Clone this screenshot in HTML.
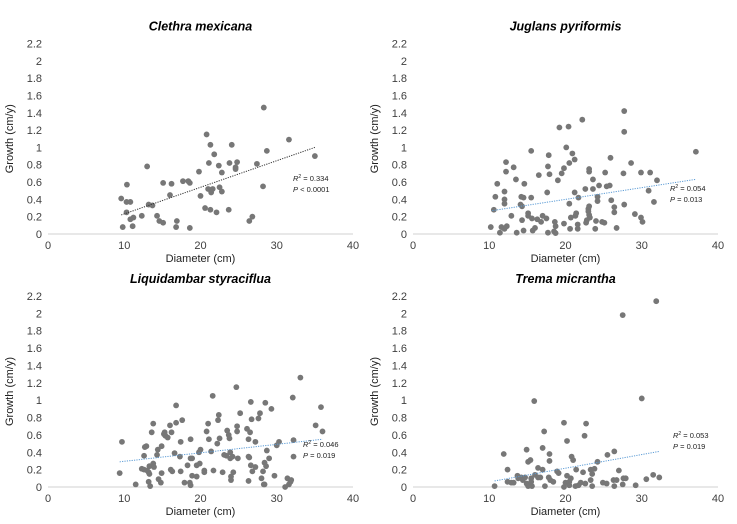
<!DOCTYPE html>
<html><head><meta charset="utf-8"><style>
body{margin:0;background:#fff;}
svg{display:block;font-family:"Liberation Sans",sans-serif;}
</style></head><body>
<svg id="chart" width="737" height="524" viewBox="0 0 737 524"></svg>
<script>
const xTicks=[0,10,20,30,40];
const yTicks=[0,0.2,0.4,0.6,0.8,1,1.2,1.4,1.6,1.8,2,2.2];
const yTickLabels=["0","0.2","0.4","0.6","0.8","1","1.2","1.4","1.6","1.8","2","2.2"];
const titles=["Clethra mexicana","Juglans pyriformis","Liquidambar styraciflua","Trema micrantha"];
const r2Labels=["0.334","0.054","0.046","0.053"];
const pLabels=["< 0.0001","= 0.013","= 0.019","= 0.019"];
const clethraX=[9.6,9.8,10.35,10.3,10.3,10.8,10.8,11.2,11.1,12.3,13,13.2,13.7,14.3,14.6,15.1,15.1,16,16.2,16.8,16.9,17.7,18.4,18.6,18.6,19.8,20,20.6,20.8,21,21.1,21.3,21.3,21.4,21.6,21.8,22.1,22.4,22.5,22.8,22.8,23.7,23.8,24.1,24.6,24.6,24.8,26.4,26.8,27.4,28.2,28.3,28.7,31.6,35];
const clethraY=[0.41,0.08,0.57,0.37,0.25,0.37,0.17,0.19,0.09,0.21,0.78,0.34,0.33,0.21,0.15,0.13,0.59,0.45,0.58,0.08,0.15,0.61,0.61,0.59,0.07,0.72,0.44,0.30,1.15,0.52,0.82,1.03,0.28,0.48,0.52,0.92,0.25,0.79,0.54,0.71,0.49,0.28,0.82,1.03,0.77,0.75,0.83,0.15,0.2,0.81,0.55,1.46,0.96,1.09,0.90];
const juglansX=[10.2,10.6,10.8,11.05,11.4,11.6,12,12,12,12,12.2,12.2,12.3,12.9,13.2,13.5,13.6,14.1,14.2,14.3,14.3,14.5,14.5,14.6,15.1,15.1,15.5,15.5,15.6,15.7,16,16.3,16.5,16.8,17,17.5,17.6,17.7,17.8,17.7,17.9,18.5,18.6,18.7,18.7,19,19.2,19.5,19.8,19.8,20.1,20.4,20.5,20.5,20.6,20.7,20.9,21.2,21.2,21.3,21.4,21.6,21.6,21.7,22.2,22.6,22.7,22.8,23,23,23.1,23.1,23.1,23.1,23.2,23.6,23.6,23.9,24,24.2,24.2,24.4,24.8,25.1,25.2,25.4,25.8,25.9,26,26.4,26.4,26.7,27.6,27.7,27.7,27.7,28.6,29.1,29.9,29.9,30.1,30.9,31.1,31.6,32,37.1];
const juglansY=[0.08,0.28,0.43,0.58,0.015,0.08,0.06,0.49,0.40,0.35,0.83,0.72,0.09,0.21,0.77,0.63,0.015,0.34,0.43,0.16,0.32,0.42,0.04,0.58,0.24,0.21,0.96,0.42,0.18,0.04,0.07,0.17,0.68,0.14,0.21,0.18,0.48,0.78,0.91,0.015,0.69,0.03,0.14,0.09,0.01,0.62,1.23,0.70,0.76,0.12,1.0,1.24,0.82,0.35,0.06,0.19,0.93,0.86,0.48,0.21,0.24,0.11,0.06,0.42,1.32,0.52,0.13,0.16,0.26,0.29,0.72,0.75,0.32,0.22,0.19,0.52,0.63,0.06,0.15,0.43,0.38,0.56,0.14,0.13,0.71,0.55,0.56,0.88,0.39,0.31,0.25,0.07,0.70,1.42,1.18,0.34,0.82,0.23,0.71,0.19,0.14,0.50,0.71,0.37,0.62,0.95];
const liquidX=[9.4,9.7,11.5,12.3,12.6,12.6,12.7,12.9,13,13.2,13.2,13.3,13.3,13.4,13.6,13.8,13.8,13.9,14.3,14.4,14.5,14.8,14.9,14.9,15.2,15.3,15.4,15.7,16,16.1,16.2,16.3,16.6,16.8,16.8,17.3,17.4,17.4,17.6,17.9,18.3,18.6,18.7,18.7,18.7,18.9,18.9,19.5,19.5,19.8,19.9,20,20.5,20.5,20.8,21,21.1,21.4,21.6,21.7,22.2,22.3,22.4,22.5,22.9,23.1,23.4,23.5,24.7,23.7,23.8,23.9,23.9,24,24,24.2,24.3,24.8,24.8,24.9,25.2,26.1,26.3,26.3,26.3,26.4,26.5,26.6,26.6,26.7,26.8,27.2,27.2,27.6,27.8,28,28.2,28.3,28.4,28.4,28.5,28.6,28.7,29,29.3,29.7,30,30.3,31.1,31.4,31.6,31.8,31.9,32.1,32.2,32.2,33.1,35.1,35.8,36];
const liquidY=[0.16,0.52,0.03,0.21,0.2,0.36,0.46,0.47,0.19,0.17,0.06,0.15,0.24,0.01,0.63,0.73,0.27,0.23,0.37,0.43,0.09,0.05,0.47,0.16,0.61,0.63,0.59,0.57,0.71,0.20,0.63,0.18,0.39,0.74,0.94,0.35,0.18,0.52,0.77,0.05,0.25,0.05,0.02,0.55,0.33,0.33,0.13,0.12,0.25,0.40,0.27,0.43,0.19,0.17,0.64,0.73,0.55,0.41,1.05,0.19,0.50,0.77,0.83,0.56,0.17,0.37,0.36,0.65,1.15,0.60,0.56,0.40,0.33,0.12,0.08,0.35,0.17,0.70,0.64,0.33,0.85,0.67,0.55,0.35,0.07,0.34,0.63,0.25,0.98,0.78,0.18,0.23,0.52,0.79,0.85,0.10,0.18,0.03,0.03,0.28,0.97,0.24,0.42,0.33,0.90,0.13,0.48,0.52,0,0.10,0.03,0.06,0.08,1.03,0.35,0.54,1.26,0.71,0.92,0.64];
const tremaX=[10.7,11.9,12.4,12.4,12.9,13.2,13.7,13.8,14.2,14.4,14.7,14.9,14.9,15.1,15.1,15.4,15.5,15.5,15.6,15.9,16,16.4,16.4,16.7,17,17,17.2,17.3,17.8,17.9,17.9,18,18.4,18.9,19.1,19.8,19.8,20,20.2,20.2,20.5,20.5,20.7,20.8,21,21.3,21.4,21.7,22,22.3,22.5,22.6,22.7,23.3,23.3,23.5,23.5,23.8,24.2,24.9,25.4,25.5,26.3,26.4,26.4,26.7,27,27.5,27.5,27.6,27.9,29.2,30,30.6,31.5,31.9,32.3];
const tremaY=[0.01,0.38,0.2,0.06,0.05,0.05,0.13,0.10,0.11,0.08,0.11,0.43,0.04,0.01,0.29,0.31,0.10,0.06,0.01,0.99,0.14,0.22,0.11,0.11,0.45,0.20,0.64,0.01,0.11,0.38,0.30,0.08,0.06,0.18,0.16,0.74,0,0.05,0.13,0.53,0.06,0.02,0.10,0.35,0.31,0.01,0.20,0.02,0.05,0.17,0.59,0.04,0.73,0.08,0.20,0.15,0.01,0.21,0.29,0.05,0.04,0.37,0.08,0.41,0.01,0.08,0.19,0.03,1.98,0.10,0.10,0.02,1.02,0.09,0.14,2.14,0.11];
const trendX0=[9.6,10.4,9.4,10.7];
const trendY0=[0.22,0.27,0.29,0.07];
const trendX1=[35,37,36,32.3];
const trendY1=[1.0,0.63,0.55,0.41];

const NS="http://www.w3.org/2000/svg";
const svg=document.getElementById('chart');
function mk(tag,attrs,parent){const e=document.createElementNS(NS,tag);for(const k in attrs)e.setAttribute(k,attrs[k]);(parent||svg).appendChild(e);return e;}
const panels=[{x0:48,x1:353,y0:234,y1:43.5,ax:293,ay:181,c:"#333",X:clethraX,Y:clethraY},
{x0:413,x1:718,y0:234,y1:43.5,ax:670,ay:191,c:"#5b9bd5",X:juglansX,Y:juglansY},
{x0:48,x1:353,y0:487,y1:296,ax:303,ay:447,c:"#5b9bd5",X:liquidX,Y:liquidY},
{x0:413,x1:718,y0:487,y1:296,ax:673,ay:438,c:"#5b9bd5",X:tremaX,Y:tremaY}];
const slug=["clethra","juglans","liquidambar","trema"];
panels.forEach((p,i)=>{
  const g=mk('g',{});
  
  
  const sx=v=>p.x0+(p.x1-p.x0)*v/40, sy=v=>p.y0-(p.y0-p.y1)*v/2.2;
  const t=mk('text',{x:(p.x0+p.x1)/2,y:p.y1-13,'text-anchor':'middle','font-size':12.5,'font-weight':'bold','font-style':'italic',fill:'#000'},g);
  t.textContent=titles[i];
  
  
  const base=mk('line',{x1:p.x0,x2:p.x1,y1:p.y0,y2:p.y0,stroke:'#d0d0d0','stroke-width':1},g);
  
  
  yTicks.forEach((v,j)=>{const e=mk('text',{x:p.x0-6,y:sy(v)+4,'text-anchor':'end','font-size':11,fill:'#404040'},g);e.textContent=yTickLabels[j];
    
    });
  xTicks.forEach(v=>{const e=mk('text',{x:sx(v),y:p.y0+15,'text-anchor':'middle','font-size':11,fill:'#404040'},g);e.textContent=v;
    
    });
  const xt=mk('text',{x:(p.x0+p.x1)/2,y:p.y0+28,'text-anchor':'middle','font-size':11,fill:'#222'},g);xt.textContent='Diameter (cm)';
  
  
  const cy=(p.y0+p.y1)/2;
  const yt=mk('text',{x:0,y:0,transform:`translate(${p.x0-35},${cy}) rotate(-90)`,'text-anchor':'middle','font-size':11,fill:'#222'},g);yt.textContent='Growth (cm/y)';
  
  
  p.X.forEach((v,k)=>{const c=mk('circle',{cx:sx(v),cy:sy(p.Y[k]),r:2.9,fill:'#777'},g);
    
    });
  const tl=mk('line',{x1:sx(trendX0[i]),y1:sy(trendY0[i]),x2:sx(trendX1[i]),y2:sy(trendY1[i]),stroke:p.c,'stroke-width':1,'stroke-dasharray':'1.2,1.2'},g);
  
  
  const a=mk('text',{x:p.ax,y:p.ay,'font-size':7.5,fill:'#222'},g);
  a.innerHTML='<tspan font-style="italic">R</tspan><tspan font-size="5" dy="-3">2</tspan><tspan dy="3"> = '+r2Labels[i]+'</tspan>';
  
  
  const b=mk('text',{x:p.ax,y:p.ay+11,'font-size':7.5,fill:'#222'},g);
  b.innerHTML='<tspan font-style="italic">P</tspan> '+pLabels[i];
  
  
});
</script>
</body></html>
